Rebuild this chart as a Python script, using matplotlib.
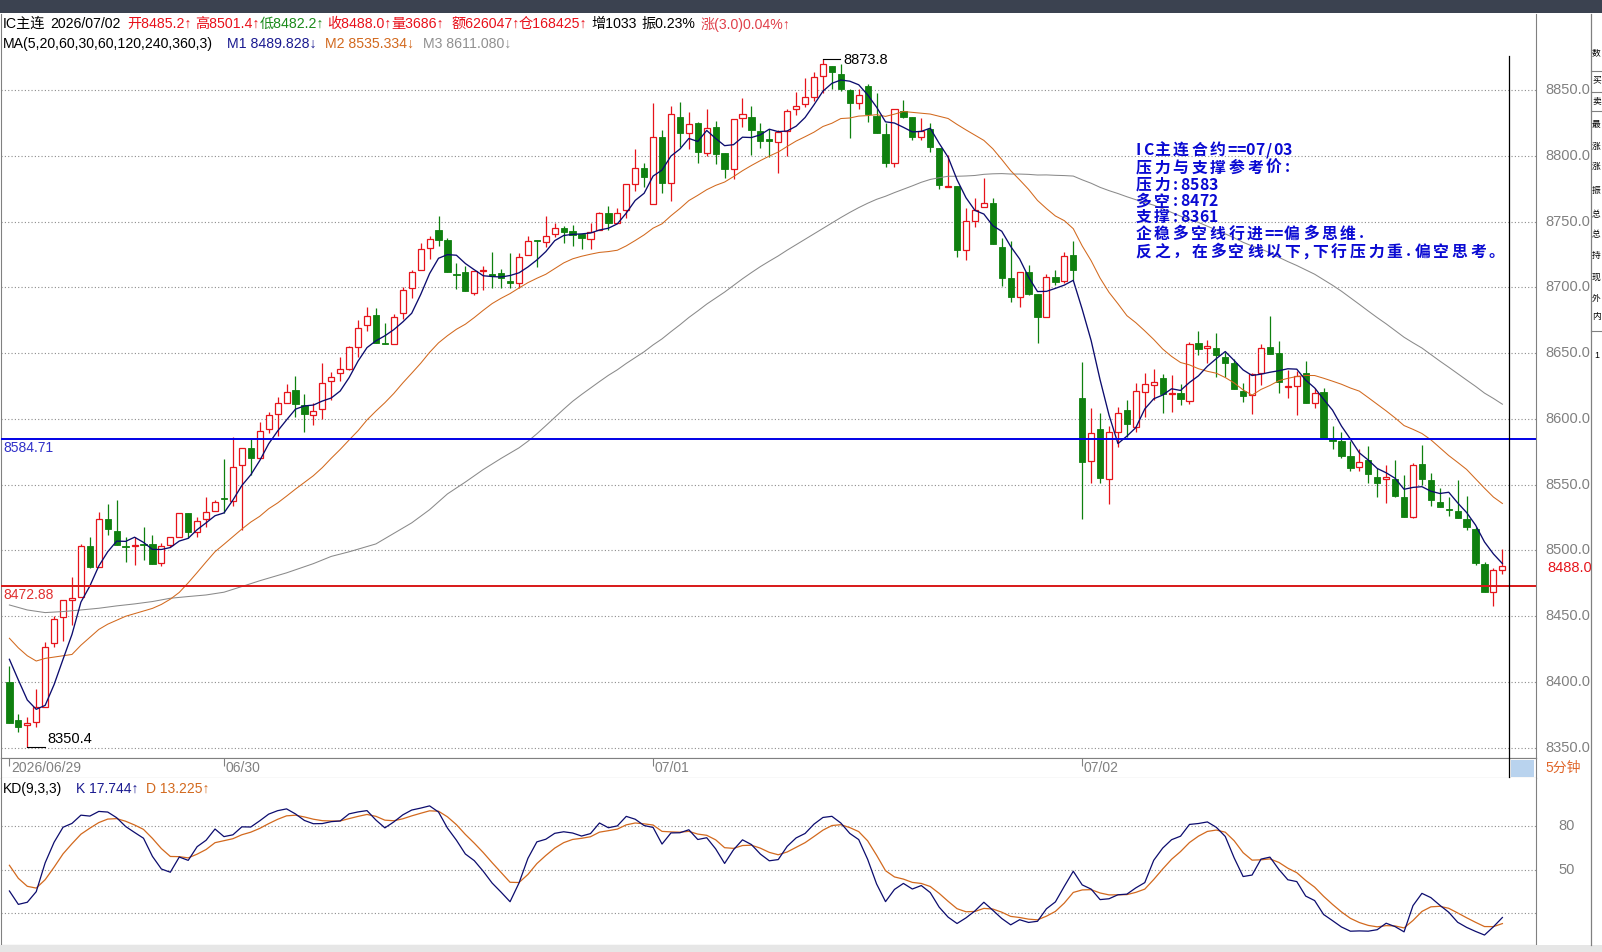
"""IC main-contract 5-minute chart with MA and KD panels (recreated)."""
import numpy as np
import pandas as pd
import matplotlib
matplotlib.use("Agg")
import matplotlib.pyplot as plt
from matplotlib.lines import Line2D
from matplotlib.patches import Rectangle

plt.rcParams["font.family"] = ["Liberation Sans", "Noto Sans CJK SC", "DejaVu Sans"]

W, H = 1602, 952

# ---------------------------------------------------------------- data
opens = [8400.1, 8371.2, 8367.2, 8369.7, 8381.4, 8430.0, 8449.3, 8462.4, 8464.5, 8503.5,
         8487.8, 8523.7, 8515.1, 8503.0, 8503.2, 8504.5, 8505.0, 8490.3, 8504.5, 8510.6,
         8528.3, 8514.4, 8523.7, 8530.3, 8539.7, 8537.9, 8565.0, 8578.2, 8570.1, 8592.0,
         8603.4, 8612.3, 8621.9, 8610.5, 8602.7, 8607.2, 8628.5, 8634.6, 8638.1, 8654.3,
         8671.0, 8678.9, 8657.4, 8656.6, 8680.2, 8699.2, 8713.1, 8729.6, 8743.5, 8735.9,
         8709.8, 8711.6, 8695.9, 8712.4, 8709.8, 8710.6, 8705.0, 8703.0, 8724.3, 8735.9,
         8734.7, 8740.2, 8744.8, 8743.0, 8740.2, 8736.4, 8743.5, 8756.2, 8749.1, 8758.7,
         8778.5, 8790.4, 8763.0, 8814.4, 8779.0, 8829.1, 8817.0, 8824.6, 8802.3, 8821.5,
         8801.8, 8789.6, 8828.4, 8829.1, 8818.8, 8812.4, 8810.6, 8818.8, 8835.2, 8839.0,
         8844.8, 8860.5, 8868.1, 8862.1, 8849.9, 8839.8, 8852.9, 8830.1, 8816.5, 8794.2,
         8834.2, 8829.1, 8814.0, 8820.3, 8805.6, 8776.4, 8777.0, 8728.3, 8750.6, 8760.7,
         8764.3, 8730.9, 8706.8, 8692.8, 8711.3, 8694.9, 8677.6, 8708.0, 8705.0, 8724.5,
         8615.6, 8568.2, 8592.0, 8554.0, 8590.3, 8606.7, 8594.1, 8620.7, 8626.0, 8630.8,
         8619.1, 8619.4, 8613.8, 8657.4, 8653.6, 8653.6, 8647.2, 8642.2, 8621.4, 8618.1,
         8634.7, 8654.4, 8649.9, 8624.5, 8625.0, 8634.7, 8611.9, 8620.2, 8584.5, 8583.3,
         8571.9, 8563.3, 8568.8, 8555.6, 8554.1, 8554.1, 8540.5, 8525.8, 8565.8, 8553.6,
         8537.2, 8531.6, 8530.3, 8524.0, 8516.1, 8489.8, 8468.8, 8485.2]
highs = [8412.0, 8375.8, 8373.3, 8394.5, 8430.8, 8450.3, 8462.4, 8480.2, 8505.0, 8510.6,
         8529.6, 8535.4, 8538.4, 8510.6, 8510.0, 8518.1, 8511.8, 8505.5, 8510.6, 8528.8,
         8528.8, 8525.8, 8540.4, 8538.4, 8569.3, 8586.0, 8578.2, 8584.5, 8597.9, 8605.0,
         8616.3, 8626.5, 8632.6, 8618.9, 8611.8, 8642.2, 8635.6, 8646.8, 8655.4, 8675.1,
         8685.2, 8684.5, 8673.1, 8679.4, 8700.0, 8713.1, 8733.4, 8739.0, 8754.1, 8737.2,
         8718.7, 8716.2, 8712.6, 8716.2, 8727.0, 8714.1, 8726.3, 8726.3, 8739.0, 8736.0,
         8754.2, 8749.1, 8746.6, 8747.3, 8740.2, 8749.1, 8757.5, 8761.8, 8760.0, 8778.2,
         8804.8, 8794.2, 8840.3, 8819.5, 8837.7, 8840.5, 8833.4, 8825.8, 8835.2, 8826.6,
         8801.8, 8827.6, 8843.6, 8837.7, 8825.1, 8820.3, 8819.5, 8835.2, 8848.6, 8858.8,
         8863.8, 8873.8, 8868.1, 8869.7, 8850.4, 8850.9, 8854.5, 8847.4, 8825.1, 8835.2,
         8842.3, 8829.6, 8828.4, 8824.6, 8805.6, 8800.5, 8777.0, 8760.0, 8767.6, 8782.8,
         8767.6, 8737.2, 8735.4, 8711.8, 8716.9, 8694.9, 8710.1, 8713.1, 8727.0, 8735.4,
         8643.5, 8608.0, 8604.7, 8594.6, 8608.8, 8614.3, 8627.5, 8634.6, 8637.6, 8634.1,
         8633.3, 8626.2, 8658.6, 8666.8, 8659.9, 8665.0, 8651.1, 8645.2, 8627.0, 8635.1,
         8657.0, 8678.2, 8659.5, 8637.2, 8636.7, 8644.0, 8623.3, 8623.3, 8594.7, 8590.4,
         8583.5, 8576.9, 8579.5, 8562.5, 8565.0, 8568.8, 8557.4, 8566.8, 8580.2, 8558.7,
         8547.3, 8540.9, 8553.6, 8541.7, 8518.2, 8491.6, 8486.5, 8501.4]
lows = [8368.7, 8362.4, 8350.4, 8365.7, 8381.4, 8427.0, 8431.5, 8443.4, 8464.5, 8486.5,
        8487.8, 8511.6, 8504.0, 8491.6, 8489.0, 8492.8, 8489.8, 8488.5, 8503.0, 8510.0,
        8509.3, 8510.0, 8518.2, 8530.0, 8528.8, 8533.9, 8515.6, 8557.4, 8570.1, 8589.0,
        8587.0, 8612.0, 8601.7, 8590.3, 8595.3, 8599.6, 8614.3, 8628.8, 8637.5, 8647.3,
        8667.0, 8657.9, 8656.6, 8656.6, 8675.6, 8691.6, 8713.1, 8721.2, 8731.4, 8711.8,
        8698.4, 8697.4, 8694.1, 8697.9, 8699.2, 8699.2, 8699.2, 8699.2, 8724.3, 8715.7,
        8730.3, 8738.5, 8733.9, 8731.4, 8729.3, 8729.3, 8743.5, 8743.5, 8749.1, 8752.4,
        8773.4, 8775.9, 8763.0, 8771.4, 8765.8, 8806.3, 8804.8, 8794.7, 8799.8, 8793.7,
        8782.8, 8782.0, 8821.5, 8800.5, 8805.6, 8799.2, 8787.1, 8799.8, 8830.9, 8837.2,
        8841.8, 8847.9, 8850.4, 8849.4, 8813.2, 8835.2, 8825.8, 8817.0, 8791.7, 8791.2,
        8828.4, 8811.9, 8811.9, 8803.0, 8774.4, 8776.0, 8723.3, 8720.7, 8746.1, 8760.7,
        8732.6, 8701.0, 8689.0, 8685.2, 8694.1, 8657.4, 8677.6, 8701.7, 8703.0, 8705.5,
        8523.6, 8551.5, 8551.5, 8535.3, 8578.9, 8586.5, 8589.8, 8601.7, 8614.3, 8604.7,
        8605.5, 8610.5, 8611.3, 8648.5, 8642.7, 8632.1, 8632.1, 8622.4, 8613.1, 8603.4,
        8625.8, 8649.4, 8620.0, 8615.7, 8603.0, 8611.9, 8608.1, 8585.3, 8577.0, 8570.1,
        8560.7, 8560.7, 8551.1, 8540.5, 8536.4, 8540.5, 8525.8, 8524.5, 8549.8, 8534.1,
        8532.9, 8526.3, 8524.5, 8515.6, 8489.0, 8468.8, 8457.9, 8482.2]
closes = [8368.7, 8366.2, 8369.2, 8380.9, 8426.5, 8447.7, 8462.4, 8463.7, 8503.5, 8487.8,
          8523.7, 8516.6, 8504.0, 8502.5, 8503.7, 8504.0, 8489.8, 8503.7, 8510.0, 8528.3,
          8514.4, 8522.7, 8529.6, 8537.1, 8538.9, 8563.2, 8578.2, 8570.1, 8591.1, 8602.7,
          8611.8, 8620.4, 8611.0, 8603.4, 8606.0, 8627.0, 8632.0, 8637.6, 8654.3, 8668.8,
          8678.2, 8657.9, 8656.6, 8677.7, 8697.9, 8711.3, 8728.8, 8736.4, 8735.9, 8711.8,
          8709.0, 8697.4, 8712.6, 8713.1, 8708.8, 8707.3, 8703.0, 8722.8, 8735.4, 8735.4,
          8739.0, 8744.8, 8742.3, 8739.7, 8737.2, 8742.3, 8756.2, 8749.1, 8756.2, 8778.2,
          8790.4, 8783.5, 8814.4, 8779.0, 8831.4, 8817.0, 8823.8, 8803.0, 8820.8, 8801.0,
          8789.6, 8827.6, 8831.4, 8819.5, 8811.4, 8810.9, 8818.2, 8834.0, 8837.7, 8844.3,
          8859.5, 8869.7, 8863.8, 8850.4, 8839.8, 8845.9, 8831.4, 8817.0, 8794.7, 8835.2,
          8829.6, 8814.0, 8819.0, 8806.8, 8777.7, 8777.0, 8728.3, 8750.6, 8758.7, 8763.8,
          8732.6, 8707.3, 8692.8, 8711.3, 8694.9, 8677.6, 8708.0, 8704.2, 8723.7, 8713.1,
          8567.5, 8589.0, 8555.3, 8589.7, 8604.7, 8595.8, 8621.4, 8626.2, 8628.3, 8618.9,
          8619.6, 8615.1, 8656.6, 8653.3, 8655.4, 8648.5, 8642.2, 8622.4, 8617.6, 8634.1,
          8653.7, 8649.4, 8628.3, 8625.0, 8632.6, 8611.9, 8620.0, 8585.3, 8583.5, 8572.1,
          8562.5, 8567.6, 8557.9, 8551.6, 8555.6, 8541.7, 8525.8, 8565.0, 8554.4, 8538.4,
          8532.9, 8530.6, 8524.5, 8517.7, 8490.8, 8468.8, 8485.0, 8488.0]

# moving averages on the first bars depend on closes before the visible window,
# so those heads are read straight off the chart
ma5_head = [8417.3, 8401.6, 8386.4, 8379.3]
ma20_head = [8433.3, 8426.0, 8420.0, 8416.0, 8418.0, 8419.0, 8420.0, 8421.0, 8428.0, 8434.0,
             8440.0, 8444.0, 8447.0, 8450.0, 8452.0, 8454.0, 8456.0, 8459.0, 8463.0]
ma60_head_idx = [0, 2, 4, 6, 8, 10, 12, 14, 16, 18, 20, 22, 24, 26, 28, 31, 34, 36, 38,
                 41, 43, 45, 47, 49, 51, 53, 55, 57, 58]
ma60_head = [8458.6, 8454.8, 8452.8, 8453.6, 8454.8, 8456.1, 8457.9, 8459.4, 8461.2, 8463.7,
             8465.0, 8466.2, 8468.3, 8472.6, 8477.0, 8483.0, 8490.0, 8495.5, 8499.0, 8505.0,
             8513.0, 8521.0, 8531.0, 8543.0, 8552.0, 8561.5, 8570.0, 8578.0, 8583.0]
k_start, d_start = 35.4, 53.1

day_labels = ["2026/06/29", "06/30", "07/01", "07/02"]
day_starts = [0, 24, 72, 120]
price_ticks = [8350, 8400, 8450, 8500, 8550, 8600, 8650, 8700, 8750, 8800, 8850]
kd_grid = [20, 50, 80]
kd_labels = [80, 50]
resist_level = 8584.71
pivot_level = 8472.88

note_lines = ["IC主连合约==07/03", "压力与支撑参考价:", "压力:8583", "多空:8472",
              "支撑:8361", "企稳多空线行进==偏多思维.", "反之，在多空线以下,下行压力重.偏空思考。"]
side_chars = ["数", "买", "卖", "最", "涨", "涨", "振", "总", "总", "持", "现", "外", "内", "1"]

# ---------------------------------------------------------------- derived
o = np.array(opens); h = np.array(highs); l = np.array(lows); c = np.array(closes)
n = len(c)
idx = np.arange(n)
cs = pd.Series(c)

ma5 = cs.rolling(5).mean().to_numpy()
ma5[:4] = ma5_head
ma20 = cs.rolling(20).mean().to_numpy()
ma20[:19] = ma20_head
ma60_full = cs.rolling(60).mean().to_numpy()
ma60_x = np.concatenate([ma60_head_idx, idx[59:]])
ma60_y = np.concatenate([ma60_head, ma60_full[59:]])

hh = pd.Series(h).rolling(9, min_periods=1).max().to_numpy()
ll = pd.Series(l).rolling(9, min_periods=1).min().to_numpy()
rsv = (c - ll) / (hh - ll) * 100
K = [k_start]; D = [d_start]
for i in range(1, n):
    K.append((2 * K[-1] + rsv[i]) / 3)
    D.append((2 * D[-1] + K[-1]) / 3)

# ---------------------------------------------------------------- style
RED = "#e6141b"
GREEN = "#0f800f"
NAVY = "#0c0c6e"
ORANGE = "#d2691e"
GRAYLINE = "#8a8a8a"
GRID = "#8c8c8c"
BORDER = "#808080"
DOT = (0, (1, 2))
CJK = ["Liberation Sans", "Noto Sans CJK SC", "DejaVu Sans"]

fig = plt.figure(figsize=(W / 100, H / 100), dpi=100)
fig.patch.set_facecolor("white")


def box(x0, y0, x1, y1):
    return [x0 / W, 1 - y1 / H, (x1 - x0) / W, (y1 - y0) / H]


def ftext(x, y, s, **kw):
    kw.setdefault("va", "center")
    kw.setdefault("ha", "left")
    return fig.text(x / W, 1 - y / H, s, **kw)


def fline(xs, ys, **kw):
    fig.add_artist(Line2D([x / W for x in xs], [1 - y / H for y in ys], **kw))


XL = (-0.94, 170.76)

# toolbar strip and bottom strip
fig.add_artist(Rectangle((0, 1 - 13 / H), 1, 13 / H, transform=fig.transFigure,
                         facecolor="#3b4250", edgecolor="none"))
fig.add_artist(Rectangle((0, 0), 1, 7 / H, transform=fig.transFigure,
                         facecolor="#e6e6e6", edgecolor="none"))

# ---------------------------------------------------------------- price panel
ax = fig.add_axes(box(1, 14, 1536, 758))
ax.set_xlim(*XL)
ax.set_ylim(8342.3, 8907.7)
ax.set_xticks([]); ax.set_yticks([])
ax.spines["top"].set_visible(False)
for s in ("left", "right", "bottom"):
    ax.spines[s].set_color(BORDER)

for p in price_ticks:
    ax.axhline(p, color=GRID, lw=0.8, ls=DOT, zorder=1)
    ax.annotate(f"{p:.1f}", xy=(1, p), xycoords=("axes fraction", "data"),
                xytext=(9, 0), textcoords="offset pixels", va="center", ha="left",
                color="#808080", fontsize=10.5, annotation_clip=False)
# last price tag
ax.annotate(f"{c[-1]:.1f}", xy=(1, c[-1]), xycoords=("axes fraction", "data"),
            xytext=(11, -2), textcoords="offset pixels", va="center", ha="left",
            color=RED, fontsize=10.5, annotation_clip=False)

up = c >= o
ax.vlines(idx, l, h, colors=np.where(up, RED, GREEN), lw=0.9, zorder=2)
bottom = np.minimum(o, c)
height = np.maximum(np.abs(c - o), 0.7)
ax.bar(idx[up], height[up], bottom=bottom[up], width=0.68, facecolor="white",
       edgecolor=RED, lw=0.9, zorder=3)
ax.bar(idx[~up], height[~up], bottom=bottom[~up], width=0.70, facecolor=GREEN,
       edgecolor=GREEN, lw=0.6, zorder=3)

ax.plot(ma60_x, ma60_y, color=GRAYLINE, lw=0.75, zorder=4)
ax.plot(idx, ma20, color=ORANGE, lw=0.75, zorder=4)
ax.plot(idx, ma5, color=NAVY, lw=0.95, zorder=4)

ax.axhline(resist_level, color="#0000e6", lw=1.4, zorder=5)
ax.axhline(pivot_level, color="#d81818", lw=1.4, zorder=5)
ax.annotate(f"{resist_level:.2f}", xy=(0, resist_level), xycoords=("axes fraction", "data"),
            xytext=(2, -9), textcoords="offset pixels", va="center", ha="left",
            color="#3030c8", fontsize=10)
ax.annotate(f"{pivot_level:.2f}", xy=(0, pivot_level), xycoords=("axes fraction", "data"),
            xytext=(2, -9), textcoords="offset pixels", va="center", ha="left",
            color="#e03030", fontsize=10)

# extreme markers
i_hi = int(np.argmax(h)); i_lo = int(np.argmin(l))
ax.plot([i_hi, i_hi + 1.95], [h[i_hi], h[i_hi]], color="black", lw=0.8, zorder=5)
ax.annotate(f"{h[i_hi]:.1f}", xy=(i_hi + 1.95, h[i_hi]), xytext=(3, -1),
            textcoords="offset pixels", va="center", ha="left", fontsize=10.5)
ax.plot([i_lo, i_lo + 2.0], [l[i_lo], l[i_lo]], color="black", lw=0.8, zorder=5)
ax.annotate(f"{l[i_lo]:.1f}", xy=(i_lo + 2.0, l[i_lo]), xytext=(2, 8),
            textcoords="offset pixels", va="center", ha="left", fontsize=10.5)

# blue note, laid out on a fixed full/half-width grid like the terminal font
note_y = [150, 167.5, 185, 201.5, 217, 233.5, 251.5]
EM = 18.6
for line, yy in zip(note_lines, note_y):
    x = 1134
    for ch in line:
        wch = EM if ord(ch) > 0x2000 else EM / 2
        if ch != " ":
            ftext(x + wch / 2, yy, ch, ha="center", color="#0a0ad2", fontsize=11.4,
                  fontweight="bold", family=["Noto Sans CJK SC", "DejaVu Sans"])
        x += wch

# ---------------------------------------------------------------- date strip
axd = fig.add_axes(box(1, 758, 1536, 778))
axd.set_xlim(*XL); axd.set_ylim(0, 1)
axd.set_xticks([]); axd.set_yticks([])
for s in axd.spines.values():
    s.set_color(BORDER)
for lab, i in zip(day_labels, day_starts):
    axd.vlines(i, 0.62, 1.0, color="#808080", lw=0.8)
    axd.text(i + 0.2, 0.48, lab, va="center", ha="left", color="#808080", fontsize=10)
fig.add_artist(Rectangle((1511 / W, 1 - 777 / H), 23 / W, 17 / H, transform=fig.transFigure,
                         facecolor="#b9d3ee", edgecolor="none"))
ftext(1545, 768, "5分钟", color="#e0662a", fontsize=10, family=CJK)

# ---------------------------------------------------------------- KD panel
axk = fig.add_axes(box(1, 778, 1536, 945))
axk.set_xlim(*XL); axk.set_ylim(-1.86, 113.3)
axk.set_xticks([]); axk.set_yticks([])
axk.spines["top"].set_visible(False)
for s in ("left", "right", "bottom"):
    axk.spines[s].set_color(BORDER)
for v in kd_grid:
    axk.axhline(v, color=GRID, lw=0.8, ls=DOT, zorder=1)
for v in kd_labels:
    axk.annotate(f"{v}", xy=(1, v), xycoords=("axes fraction", "data"), xytext=(22, 0),
                 textcoords="offset pixels", va="center", ha="left", color="#808080",
                 fontsize=10.5, annotation_clip=False)
axk.plot(idx, D, color=ORANGE, lw=0.9, zorder=3)
axk.plot(idx, K, color=NAVY, lw=0.9, zorder=4)

ftext(3, 789, "KD(9,3,3)", color="black", fontsize=10)
ftext(76, 789, "K 17.744↑", color="#1a1a90", fontsize=10)
ftext(146, 789, "D 13.225↑", color=ORANGE, fontsize=10)

# cursor line and the narrow quote column on the right edge
fline([1509, 1509], [56, 777], color="black", lw=0.9)
fline([1591, 1591], [14, 945], color=BORDER, lw=0.9)
for yy in (70.5, 92, 110.5, 331):
    fline([1591, 1602], [yy, yy], color=BORDER, lw=0.8)
side_y = [53, 80, 101, 125, 146, 167, 190, 214, 235, 256, 277, 298, 317, 355]
for ch, yy in zip(side_chars, side_y):
    ftext(1596.5, yy, ch, ha="center", fontsize=6.3, family=CJK, color="black")

# ---------------------------------------------------------------- header text
RED_T = "#e8101a"
head1 = [(3, "IC主连", "black"), (50, "2026/07/02", "black"), (127, "开8485.2↑", RED_T),
         (195, "高8501.4↑", RED_T), (260, "低8482.2↑", "#1a8a1a"), (327, "收8488.0↑", RED_T),
         (391, "量3686↑", RED_T), (451, "额626047↑", RED_T), (519, "仓168425↑", RED_T),
         (591, "增1033", "black"), (641, "振0.23%", "black"), (701, "涨(3.0)0.04%↑", "#e0404a")]
for x, s, col in head1:
    ftext(x, 24, s, color=col, fontsize=10.2, family=CJK)
head2 = [(3, "MA(5,20,60,30,60,120,240,360,3)", "black"), (227, "M1 8489.828↓", "#1a1a90"),
         (325, "M2 8535.334↓", ORANGE), (423, "M3 8611.080↓", "#909090")]
for x, s, col in head2:
    ftext(x, 44, s, color=col, fontsize=10.2, family=CJK)

fig.savefig("out.png", dpi=100)
